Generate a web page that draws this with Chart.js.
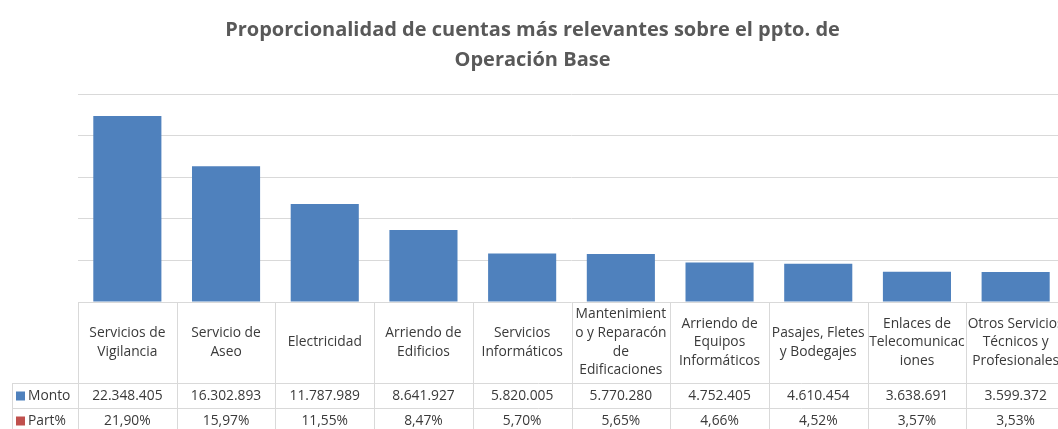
<!DOCTYPE html>
<html>
<head>
<meta charset="utf-8">
<script src="https://cdn.jsdelivr.net/npm/chart.js@4.4.1/dist/chart.umd.min.js"></script>
<style>
html,body{margin:0;padding:0;overflow:hidden;background:#fff;}
#wrap{width:1070px;height:429px;position:relative;}
</style>
</head>
<body>
<div id="wrap"><canvas id="c"></canvas></div>
<script>
const categories = [
  ["Servicios de","Vigilancia"],
  ["Servicio de","Aseo"],
  ["Electricidad"],
  ["Arriendo de","Edificios"],
  ["Servicios","Informáticos"],
  ["Mantenimient","o y Reparacón","de","Edificaciones"],
  ["Arriendo de","Equipos","Informáticos"],
  ["Pasajes, Fletes","y Bodegajes"],
  ["Enlaces de","Telecomunicac","iones"],
  ["Otros Servicios","Técnicos y","Profesionales"]
];
const monto = [22348405, 16302893, 11787989, 8641927, 5820005, 5770280, 4752405, 4610454, 3638691, 3599372];
const partPct = [21.90, 15.97, 11.55, 8.47, 5.70, 5.65, 4.66, 4.52, 3.57, 3.53];
const seriesNames = ["Monto", "Part%"];
const seriesColors = ["#4f81bd", "#c0504d"];
const titleLines = ["Proporcionalidad de cuentas más relevantes sobre el ppto. de", "Operación Base"];

const FONT = "'Open Sans', sans-serif";
const TXT = "#3a3a3a";
const LINE = "#d9d9d9";

function fmtMonto(v){ return String(v).replace(/\B(?=(\d{3})+(?!\d))/g, "."); }
function fmtPct(v){ return v.toFixed(2).replace(".", ",") + "%"; }

const tablePlugin = {
  id: 'dataTable',
  afterDraw(chart){
    const ctx = chart.ctx;
    const xs = chart.scales.x;
    const area = chart.chartArea;
    const n = categories.length;
    const step = (xs.getPixelForValue(1) - xs.getPixelForValue(0));
    const top = area.bottom;
    const hdrBottom = top + 81;
    const row1Bottom = hdrBottom + 25;
    const row2Bottom = row1Bottom + 25;
    const leftCol = 12;
    ctx.save();
    ctx.strokeStyle = LINE;
    ctx.lineWidth = 1;
    for (let i = 0; i <= n; i++) {
      const x = Math.round(xs.getPixelForValue(i) - step/2) + 0.5;
      ctx.beginPath(); ctx.moveTo(x, top); ctx.lineTo(x, row2Bottom); ctx.stroke();
    }
    ctx.beginPath(); ctx.moveTo(leftCol + 0.5, hdrBottom); ctx.lineTo(leftCol + 0.5, row2Bottom); ctx.stroke();
    const right = xs.getPixelForValue(n-1) + step/2;
    [hdrBottom, row1Bottom, row2Bottom].forEach(y => {
      ctx.beginPath(); ctx.moveTo(leftCol, Math.round(y)+0.5); ctx.lineTo(right, Math.round(y)+0.5); ctx.stroke();
    });
    ctx.fillStyle = TXT;
    ctx.font = "13.8px " + FONT;
    ctx.textAlign = "center";
    ctx.textBaseline = "middle";
    const lh = 18.7;
    categories.forEach((lab, i) => {
      const cx = xs.getPixelForValue(i);
      const cy = (top + hdrBottom) / 2;
      const y0 = cy - (lab.length - 1) * lh / 2;
      lab.forEach((t, j) => ctx.fillText(t, cx, y0 + j * lh));
      ctx.fillText(fmtMonto(monto[i]), cx, (hdrBottom + row1Bottom) / 2 + 1);
      ctx.fillText(fmtPct(partPct[i]), cx, (row1Bottom + row2Bottom) / 2 + 1);
    });
    ctx.textAlign = "left";
    [[hdrBottom, row1Bottom], [row1Bottom, row2Bottom]].forEach((r, k) => {
      const cy = (r[0] + r[1]) / 2 + 1;
      ctx.fillStyle = seriesColors[k];
      ctx.fillRect(16, cy - 5, 9, 9);
      ctx.fillStyle = TXT;
      ctx.fillText(seriesNames[k], 28, cy);
    });
    ctx.restore();
  }
};

new Chart(document.getElementById('c'), {
  type: 'bar',
  data: {
    labels: categories.map(c => c.join(" ")),
    datasets: [{
      label: seriesNames[0],
      data: monto,
      backgroundColor: seriesColors[0],
      barPercentage: 0.69,
      categoryPercentage: 1.0
    }]
  },
  options: {
    responsive: true,
    maintainAspectRatio: false,
    animation: false,
    layout: { padding: { left: 0, right: 5, top: 0, bottom: 127 } },
    plugins: {
      legend: { display: false },
      tooltip: { enabled: false },
      title: {
        display: true,
        text: titleLines,
        color: "#595959",
        font: { family: FONT, size: 20, weight: 'bold', lineHeight: 1.5 },
        padding: { top: 15, bottom: 19 }
      }
    },
    scales: {
      x: { display: false },
      y: {
        min: 0, max: 25000000,
        afterFit(scale){ scale.width = 78; },
        ticks: { display: false, stepSize: 5000000 },
        grid: { color: LINE, drawTicks: false, lineWidth: 1 },
        border: { display: false }
      }
    }
  },
  plugins: [tablePlugin]
});
</script>
</body>
</html>
